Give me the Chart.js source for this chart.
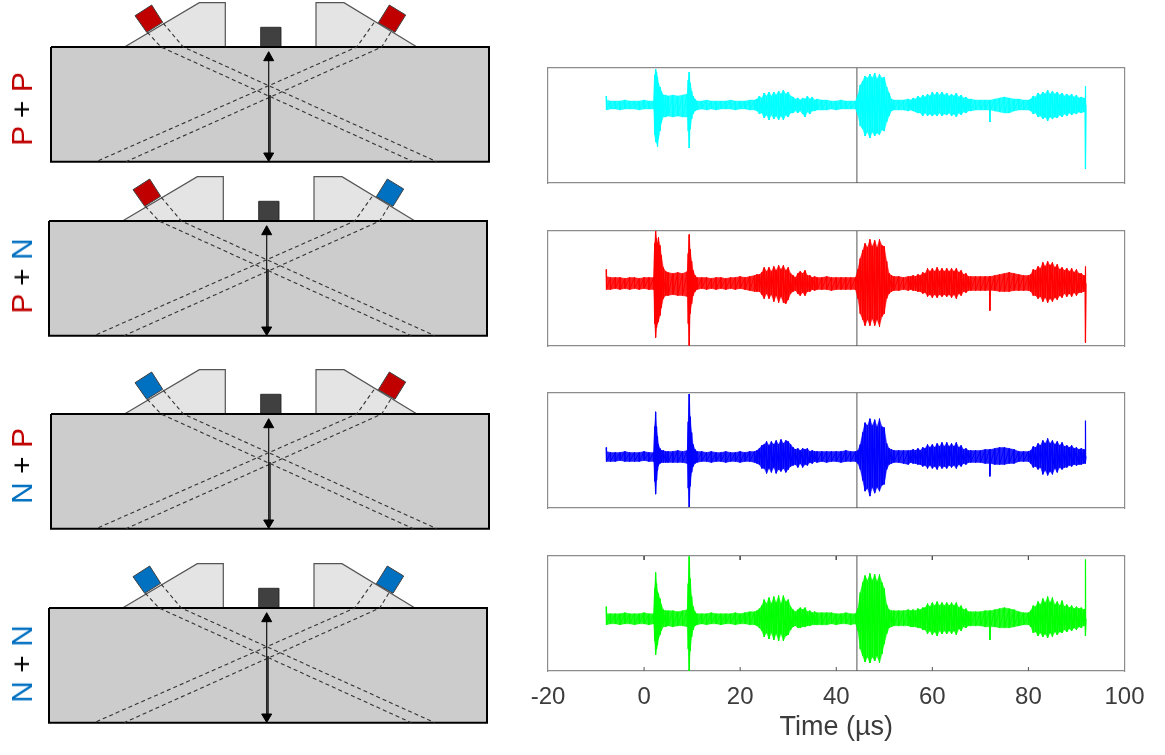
<!DOCTYPE html>
<html>
<head>
<meta charset="utf-8">
<title>Wedge pairs and time signals</title>
<script src="https://cdn.jsdelivr.net/npm/chart.js@4"></script>
<style>
  html, body { margin: 0; background: #fff; }
  #page { position: relative; width: 1165px; height: 755px; overflow: hidden; }
  canvas { position: absolute; filter: blur(0.6px); }
  .row-label {
    position: absolute; left: 22px; white-space: nowrap;
    font: 30px "Liberation Sans", Arial, sans-serif;
    transform: translate(-50%, -50%) rotate(-90deg);
    filter: blur(0.3px);
  }
</style>
</head>
<body>
<div id="page"></div>
<script>
// time of every envelope sample, in µs
const times = [
  -7.9, -7.8, -7, -6, -5, -4, -3, -2, -1, 0, 1, 2,
  2.2, 2.4, 2.6, 2.8, 3, 3.3, 3.6, 4, 4.5, 5, 6, 7, 8, 9,
  9.2, 9.4, 9.6, 9.9, 10.2, 10.6, 11, 12, 13, 14, 15, 16, 17, 18, 19, 20, 21, 22, 23,
  23.5, 24, 24.5, 25, 25.5, 26, 26.5, 27, 27.5, 28, 28.5, 29, 29.5, 30, 30.5, 31, 31.5, 32, 32.5, 33, 33.5, 34, 34.5, 35, 35.5, 36,
  37, 38, 39, 40, 41, 42, 43, 44,
  44.5, 45, 45.5, 46, 46.5, 47, 47.5, 48, 48.5, 49, 49.5, 50, 50.5, 51, 51.5, 52,
  53, 54, 55,
  55.5, 56, 56.5, 57, 57.5, 58, 58.5, 59, 59.5, 60, 60.5, 61, 61.5, 62, 62.5, 63, 63.5, 64, 64.5, 65, 65.5, 66, 66.5, 67, 67.5, 68,
  69, 70, 71,
  71.9, 72, 72.1,
  73, 74, 75, 76, 77, 78, 79, 80,
  80.5, 81, 81.5, 82, 82.5, 83, 83.5, 84, 84.5, 85, 85.5, 86, 86.5, 87, 87.5, 88, 88.5, 89, 89.5, 90, 90.5, 91, 91.5,
  91.8, 91.9, 92
];

// upper and lower envelopes (arbitrary amplitude)
const ppUpper = [
  9, 5, 4, 4, 4, 5, 4, 4, 4, 5, 4, 4,
  30, 36, 33, 28, 22, 18, 14, 10, 10, 9, 10, 9, 10, 11,
  25, 33, 22, 14, 9, 6, 4, 4, 5, 4, 4, 4, 4, 5, 4, 4, 4, 5, 5,
  6, 9, 7, 12, 9, 13, 9, 13, 10, 14, 11, 15, 11, 13, 9, 8, 6, 7, 5, 7, 6, 9, 6, 8, 5, 6,
  5, 5, 4, 4, 5, 4, 4, 4,
  10, 20, 24, 29, 27, 31, 27, 32, 26, 31, 27, 28, 18, 12, 6, 5,
  5, 5, 6,
  5, 7, 6, 9, 7, 10, 8, 11, 9, 13, 10, 13, 10, 13, 10, 12, 9, 11, 9, 12, 8, 10, 7, 8, 6, 6,
  5, 5, 5,
  5, 5, 5,
  6, 7, 8, 7, 6, 6, 5, 5,
  6, 9, 8, 12, 10, 13, 11, 15, 11, 14, 11, 13, 10, 12, 9, 11, 9, 11, 8, 10, 7, 8, 7,
  7, 19, 0
];
const ppLower = [
  -5, -5, -4, -4, -5, -4, -4, -4, -5, -4, -4, -4,
  -30, -37, -38, -42, -34, -26, -18, -12, -12, -11, -12, -11, -12, -12,
  -26, -43, -24, -14, -9, -6, -5, -4, -5, -4, -5, -4, -4, -4, -5, -4, -4, -5, -5,
  -6, -9, -8, -13, -10, -15, -10, -14, -11, -15, -11, -15, -10, -12, -8, -8, -6, -8, -6, -9, -12, -7, -9, -6, -6, -5,
  -5, -5, -4, -5, -4, -4, -4, -4,
  -10, -21, -24, -31, -27, -33, -27, -31, -28, -30, -25, -26, -17, -11, -6, -5,
  -5, -5, -6,
  -5, -6, -7, -8, -8, -11, -8, -11, -9, -11, -9, -11, -8, -11, -9, -10, -8, -11, -9, -12, -8, -10, -7, -8, -6, -6,
  -5, -5, -5,
  -5, -17, -5,
  -6, -7, -8, -8, -6, -5, -5, -5,
  -6, -9, -8, -12, -11, -14, -12, -16, -12, -14, -12, -13, -10, -12, -9, -11, -8, -10, -8, -9, -7, -8, -7,
  -7, -64, 0
];
const pnUpper = [
  14, 7, 6, 6, 6, 5, 6, 6, 5, 6, 6, 6,
  40, 53, 45, 40, 46, 38, 28, 16, 12, 11, 10, 11, 10, 12,
  30, 49, 34, 22, 13, 8, 6, 6, 6, 5, 6, 6, 5, 6, 6, 7, 6, 7, 8,
  9, 9, 11, 16, 12, 16, 12, 17, 13, 18, 14, 18, 13, 16, 10, 8, 6, 10, 12, 10, 13, 8, 8, 6, 7, 6,
  6, 7, 6, 6, 6, 6, 6, 6,
  14, 25, 33, 40, 36, 44, 37, 43, 36, 44, 38, 37, 22, 10, 8, 7,
  7, 6, 7,
  7, 8, 7, 9, 8, 11, 10, 15, 12, 15, 12, 16, 12, 15, 12, 15, 12, 15, 12, 15, 11, 13, 9, 10, 7, 7,
  7, 7, 7,
  7, 7, 7,
  8, 9, 10, 11, 10, 9, 8, 8,
  9, 14, 13, 17, 15, 21, 17, 22, 18, 21, 16, 19, 14, 16, 13, 15, 12, 15, 11, 14, 10, 10, 8,
  8, 17, 0
];
const pnLower = [
  -6, -6, -6, -5, -6, -5, -6, -5, -6, -5, -6, -6,
  -40, -54, -44, -40, -38, -32, -24, -15, -12, -12, -11, -12, -12, -13,
  -40, -62, -30, -20, -12, -8, -6, -5, -6, -5, -6, -5, -6, -5, -6, -5, -6, -7, -8,
  -8, -8, -11, -15, -10, -15, -11, -18, -12, -19, -13, -19, -20, -16, -10, -8, -7, -10, -12, -9, -12, -8, -8, -6, -7, -6,
  -6, -6, -7, -6, -6, -6, -6, -6,
  -15, -30, -36, -42, -36, -42, -35, -42, -36, -43, -33, -30, -15, -10, -8, -7,
  -7, -6, -7,
  -6, -7, -7, -8, -8, -10, -9, -13, -11, -14, -11, -14, -11, -13, -11, -13, -11, -14, -11, -15, -10, -12, -8, -9, -7, -7,
  -7, -7, -7,
  -7, -27, -7,
  -7, -8, -8, -8, -7, -7, -7, -7,
  -8, -12, -12, -15, -13, -18, -14, -19, -15, -18, -14, -16, -12, -14, -10, -13, -10, -13, -9, -12, -9, -9, -8,
  -8, -59, 0
];
const npUpper = [
  9, 5, 4, 4, 4, 5, 4, 4, 4, 5, 4, 4,
  30, 45, 30, 20, 12, 8, 6, 6, 5, 5, 5, 6, 5, 6,
  35, 63, 40, 24, 12, 7, 5, 5, 4, 5, 4, 4, 5, 4, 4, 5, 4, 5, 5,
  6, 8, 11, 12, 15, 11, 15, 12, 16, 12, 17, 13, 16, 15, 12, 9, 7, 8, 6, 8, 7, 8, 5, 6, 5, 5,
  5, 5, 5, 5, 5, 6, 5, 5,
  6, 12, 24, 34, 31, 38, 31, 37, 30, 38, 30, 29, 13, 8, 7, 6,
  6, 6, 6,
  6, 7, 6, 8, 6, 9, 8, 12, 9, 12, 9, 13, 10, 14, 10, 14, 10, 13, 10, 14, 9, 11, 7, 8, 6, 6,
  6, 6, 7,
  7, 7, 7,
  8, 9, 9, 8, 7, 5, 5, 5,
  6, 10, 9, 13, 11, 16, 13, 18, 13, 16, 12, 15, 11, 14, 10, 11, 9, 11, 8, 9, 7, 8, 7,
  7, 36, 0
];
const npLower = [
  -5, -5, -5, -5, -4, -5, -5, -5, -5, -4, -5, -5,
  -25, -38, -24, -14, -9, -7, -6, -6, -6, -6, -6, -6, -6, -7,
  -32, -51, -30, -16, -10, -7, -6, -5, -5, -6, -5, -5, -6, -5, -5, -6, -5, -5, -6,
  -7, -8, -12, -12, -17, -12, -16, -11, -17, -13, -15, -12, -16, -13, -10, -9, -8, -11, -7, -11, -8, -9, -6, -7, -5, -6,
  -5, -6, -5, -5, -6, -5, -5, -5,
  -7, -13, -24, -35, -32, -40, -31, -37, -31, -35, -29, -28, -13, -8, -7, -6,
  -6, -7, -8,
  -6, -7, -7, -8, -8, -10, -9, -12, -9, -12, -10, -13, -9, -12, -10, -12, -9, -11, -9, -12, -8, -10, -7, -8, -6, -6,
  -6, -6, -7,
  -7, -20, -7,
  -8, -8, -8, -7, -7, -5, -5, -5,
  -7, -11, -10, -13, -11, -18, -14, -19, -15, -18, -12, -16, -11, -13, -11, -11, -9, -10, -8, -9, -8, -8, -7,
  -7, -7, 0
];
const nnUpper = [
  12, 5, 5, 5, 5, 6, 5, 5, 5, 6, 5, 5,
  30, 46, 35, 27, 25, 20, 14, 9, 8, 8, 8, 7, 8, 9,
  35, 62, 40, 22, 12, 7, 5, 5, 5, 6, 5, 5, 5, 5, 6, 5, 6, 7, 7,
  8, 10, 13, 19, 15, 21, 15, 22, 16, 23, 15, 23, 17, 19, 12, 9, 7, 9, 11, 9, 11, 7, 8, 6, 7, 6,
  6, 6, 6, 5, 5, 6, 5, 5,
  10, 26, 36, 43, 38, 45, 38, 44, 37, 44, 36, 30, 14, 9, 8, 8,
  8, 8, 9,
  8, 9, 8, 10, 9, 11, 11, 15, 12, 16, 13, 17, 13, 16, 13, 16, 13, 16, 13, 16, 11, 13, 9, 10, 7, 7,
  7, 7, 8,
  8, 8, 8,
  9, 10, 11, 10, 9, 7, 6, 6,
  8, 13, 12, 17, 14, 20, 16, 22, 16, 21, 14, 17, 13, 18, 12, 14, 11, 13, 10, 12, 10, 11, 9,
  10, 59, 0
];
const nnLower = [
  -5, -6, -5, -5, -6, -5, -5, -6, -5, -5, -6, -5,
  -22, -36, -30, -26, -20, -16, -12, -8, -8, -7, -8, -7, -7, -8,
  -30, -52, -32, -18, -11, -7, -6, -5, -6, -5, -5, -6, -5, -5, -6, -5, -5, -6, -6,
  -7, -9, -12, -18, -14, -20, -14, -21, -15, -22, -15, -22, -17, -16, -11, -8, -7, -9, -9, -8, -8, -7, -7, -6, -6, -6,
  -6, -6, -5, -6, -5, -5, -6, -5,
  -12, -30, -37, -43, -38, -44, -38, -42, -37, -44, -35, -25, -15, -9, -8, -7,
  -7, -7, -7,
  -8, -8, -8, -9, -9, -11, -11, -15, -12, -16, -13, -17, -12, -15, -12, -15, -12, -15, -12, -16, -10, -12, -8, -9, -7, -7,
  -7, -7, -8,
  -8, -21, -8,
  -8, -9, -9, -9, -8, -7, -6, -6,
  -8, -14, -13, -17, -14, -18, -15, -19, -14, -18, -13, -16, -13, -14, -11, -13, -10, -12, -9, -11, -8, -9, -7,
  -7, -17, 0
];

const signalUppers = [ppUpper, pnUpper, npUpper, nnUpper];
const signalLowers = [ppLower, pnLower, npLower, nnLower];
const amplitudeLimits = [[-78, 37], [-62.5, 52.5], [-52, 64], [-52, 62.5]];
const markerTime = 44.3;
const xTickValues = [-20, 0, 20, 40, 60, 80, 100];

// probe pairs, one per row
const probePairs = [["P", "P"], ["P", "N"], ["N", "P"], ["N", "N"]];

// schematic outlines, x along the block surface, y up from the surface
const blockOutline = [[0, 0], [438, 0], [438, -114.7], [0, -114.7], [0, 0]];
const leftWedge = [[73.5, 0], [148.3, 44.3], [174.3, 44.3], [174.3, 0]];
const rightWedge = [[265, 0], [265, 44.3], [293, 44.3], [366, 0]];
const centerProbe = [[209.7, 0], [209.7, 19.7], [229.7, 19.7], [229.7, 0], [209.7, 0]];
const leftSensor = [[84, 31.3], [100.7, 42], [111.7, 24.7], [95.7, 14.7], [84, 31.3]];
const rightSensor = [[327.3, 24.3], [338.3, 42], [354.7, 32], [344, 14.7], [327.3, 24.3]];
const rayPaths = [
  [[96.3, 14.7], [110, 0], [362.3, -114.7]],
  [[112.3, 23.7], [132.3, 0], [385.7, -114.7]],
  [[339.7, 14.7], [330.7, 0], [75, -114.7]],
  [[323, 24.3], [305.7, 0], [45, -114.7]]
];
const arrowShaft = [[217.7, -6], [217.7, -112]];
const arrowShaftLower = [[219, -48], [219, -108]];
const arrowHeadTop = [[217.7, -4.7], [212.7, -13.7], [222.7, -13.7], [217.7, -4.7]];
const arrowHeadBottom = [[217.7, -114.4], [212.7, -106], [222.7, -106], [217.7, -114.4]];

const signalColors = ["#00ffff", "#ff0000", "#0000ff", "#00ff00"];
const probeColors = { P: "#c00000", N: "#0070c0" };
const panelTops = [68.3, 230.7, 392.5, 555.7];
const schematicOrigins = [[51, 47], [49, 221], [51, 414], [49, 608]];
const labelCenters = [108.5, 276, 466, 664];

const page = document.getElementById("page");

function addCanvas(left, top, width, height) {
  const c = document.createElement("canvas");
  c.width = width;
  c.height = height;
  c.style.left = left + "px";
  c.style.top = top + "px";
  page.appendChild(c);
  return c;
}

const toPoints = (pairs) => pairs.map(([x, y]) => ({ x, y }));

// ---- schematic on the left of each row ----
function shape(pairs, fillColor, lineColor, lineWidth) {
  return {
    data: toPoints(pairs),
    showLine: true,
    pointRadius: 0,
    borderColor: lineColor,
    borderWidth: lineWidth,
    backgroundColor: fillColor,
    fill: fillColor ? "shape" : false,
    clip: false
  };
}

function drawSchematic(row) {
  const [originX, originY] = schematicOrigins[row];
  const canvas = addCanvas(originX - 10, originY - 50, 460, 170);
  const [leftProbe, rightProbe] = probePairs[row];
  const rays = rayPaths.map((path) => ({
    ...shape(path, null, "#333", 1.1),
    borderDash: [4, 3]
  }));
  // first dataset ends up on top
  const datasets = [
    shape(arrowHeadTop, "#000", "#000", 1),
    shape(arrowHeadBottom, "#000", "#000", 1),
    shape(arrowShaft, null, "#111", 1.2),
    shape(arrowShaftLower, null, "#333", 1),
    shape(leftSensor, probeColors[leftProbe], "#404040", 1),
    shape(rightSensor, probeColors[rightProbe], "#404040", 1),
    ...rays,
    shape(blockOutline, "#cccccc", "#000", 2),
    shape(centerProbe, "#404040", "#333", 1),
    shape(leftWedge, "#e4e4e4", "#555", 1.2),
    shape(rightWedge, "#e4e4e4", "#555", 1.2)
  ];
  new Chart(canvas.getContext("2d"), {
    type: "scatter",
    data: { datasets },
    options: {
      responsive: false,
      animation: false,
      events: [],
      plugins: { legend: { display: false }, tooltip: { enabled: false } },
      layout: { padding: 0 },
      scales: {
        x: { type: "linear", display: false, min: -10, max: 450 },
        y: { type: "linear", display: false, min: -120, max: 50 }
      }
    }
  });
}

// ---- signal panel on the right of each row ----
function borderAxis(extra) {
  return {
    type: "linear",
    ticks: { display: false },
    grid: { display: false },
    border: { display: true, color: "#8c8c8c", width: 1.2 },
    ...extra
  };
}

function drawSignal(row) {
  const isLast = row === signalUppers.length - 1;
  const upper = signalUppers[row];
  const lower = signalLowers[row];
  const [yMin, yMax] = amplitudeLimits[row];
  const color = signalColors[row];
  const canvas = addCanvas(508, panelTops[row] - 2, 657, isLast ? 196 : 119);
  const axisHeight = isLast ? 79 : 0;
  const tickLength = 4;

  // only the bottom panel has inward tick marks, top and bottom
  const tickMarks = isLast
    ? xTickValues.slice(1, -1).flatMap((t) => [
        { x: t, y: yMin }, { x: t, y: yMin + tickLength }, { x: NaN, y: NaN },
        { x: t, y: yMax }, { x: t, y: yMax - tickLength }, { x: NaN, y: NaN }
      ])
    : [];

  new Chart(canvas.getContext("2d"), {
    type: "scatter",
    data: {
      datasets: [
        {
          // one stroke per sample, up and back down
          data: times.flatMap((t, i) => [{ x: t, y: upper[i] }, { x: t, y: lower[i] }]),
          showLine: true,
          pointRadius: 0,
          borderColor: color,
          borderWidth: 1
        },
        {
          data: times.map((t, i) => ({ x: t, y: upper[i] })),
          showLine: true,
          pointRadius: 0,
          borderColor: color + "66",
          borderWidth: 1,
          backgroundColor: color + "dd",
          fill: "+1"
        },
        {
          data: times.map((t, i) => ({ x: t, y: lower[i] })),
          showLine: true,
          pointRadius: 0,
          borderColor: color + "66",
          borderWidth: 1
        },
        {
          data: tickMarks,
          showLine: true,
          pointRadius: 0,
          borderColor: "#555",
          borderWidth: 1
        },
        {
          data: [{ x: markerTime, y: yMin }, { x: markerTime, y: yMax }],
          showLine: true,
          pointRadius: 0,
          borderColor: "#555",
          borderWidth: 1
        }
      ]
    },
    options: {
      responsive: false,
      animation: false,
      events: [],
      plugins: { legend: { display: false }, tooltip: { enabled: false } },
      layout: { padding: { left: 40, right: 40.5, top: 2, bottom: isLast ? 0 : 2 } },
      scales: {
        x: borderAxis({
          min: -20,
          max: 100,
          position: "bottom",
          afterFit: (s) => { s.height = axisHeight; },
          grid: { display: false, drawTicks: false },
          afterBuildTicks: (s) => { s.ticks = xTickValues.map((value) => ({ value })); },
          ticks: {
            display: isLast,
            autoSkip: false,
            maxRotation: 0,
            padding: 12,
            color: "#3c3c3c",
            font: { family: "Liberation Sans", size: 24 }
          },
          title: {
            display: isLast,
            text: "Time (µs)",
            color: "#3c3c3c",
            padding: { top: 0, bottom: 6 },
            font: { family: "Liberation Sans", size: 27 }
          }
        }),
        xTop: borderAxis({
          min: -20,
          max: 100,
          position: "top",
          afterFit: (s) => { s.height = 0; }
        }),
        y: borderAxis({
          min: yMin,
          max: yMax,
          position: "left",
          afterFit: (s) => { s.width = 0; }
        }),
        yRight: borderAxis({
          min: yMin,
          max: yMax,
          position: "right",
          afterFit: (s) => { s.width = 0; }
        })
      }
    }
  });
}

function addRowLabel(row) {
  const [first, second] = probePairs[row];
  const label = document.createElement("div");
  label.className = "row-label";
  label.style.top = labelCenters[row] + "px";
  const span = (text, color) => {
    const s = document.createElement("span");
    s.textContent = text;
    s.style.color = color;
    return s;
  };
  label.append(span(first, probeColors[first]), span(" + ", "#000"), span(second, probeColors[second]));
  page.appendChild(label);
}

probePairs.forEach((_, row) => {
  drawSchematic(row);
  drawSignal(row);
  addRowLabel(row);
});
</script>
</body>
</html>
